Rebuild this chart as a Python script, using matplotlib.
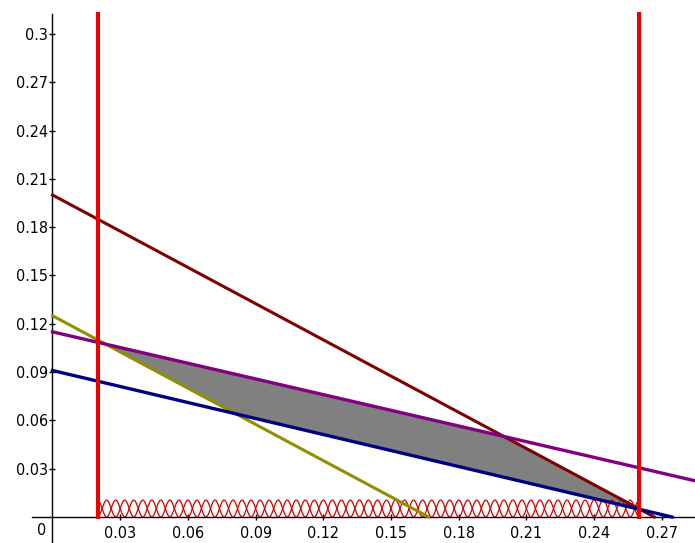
import numpy as np
import matplotlib
import matplotlib.pyplot as plt

matplotlib.use('Agg')

plt.rcParams['font.family'] = ['DejaVu Sans']
plt.rcParams['font.stretch'] = 'condensed'

# constraint lines (end points)
maroon_x = [0.0, 0.2667]
maroon_y = [0.2, 0.0]
olive_x = [0.0, 0.1667]
olive_y = [0.125, 0.0]
purple_x = [0.0, 0.285]
purple_y = [0.115, 0.0224]
navy_x = [0.0, 0.2745]
navy_y = [0.091, 0.0]

# bounds on x (red verticals)
x_low = 0.02
x_high = 0.26

xticks = [0.03, 0.06, 0.09, 0.12, 0.15, 0.18, 0.21, 0.24, 0.27]
yticks = [0.03, 0.06, 0.09, 0.12, 0.15, 0.18, 0.21, 0.24, 0.27, 0.3]

fig = plt.figure(figsize=(6.95, 5.43), dpi=100)
ax = fig.add_axes([0, 0, 1, 1])
ax.set_xlim(-0.02326, 0.2847)
ax.set_ylim(-0.01615, 0.3211)

# feasible region (grey)
xs = np.linspace(x_low, x_high, 600)
upper = np.minimum(np.interp(xs, purple_x, purple_y), np.interp(xs, maroon_x, maroon_y))
lower = np.maximum(np.interp(xs, navy_x, navy_y), np.interp(xs, olive_x, olive_y))
ax.fill_between(xs, lower, upper, where=upper >= lower, color='#808080', lw=0, zorder=1)

# red chain pattern along the bottom
n_waves = 30
h = 0.0105
xc = np.linspace(x_low, x_high, n_waves * 40 + 1)
ph = (xc - x_low) / (x_high - x_low) * n_waves * 2 * np.pi
ax.plot(xc, h / 2 * (1 + np.cos(ph)), color='#d00000', lw=0.9, zorder=2)
ax.plot(xc, h / 2 * (1 - np.cos(ph)), color='#d00000', lw=0.9, zorder=2)

ax.plot(maroon_x, maroon_y, color='#800000', lw=2.2, zorder=3)
ax.plot(olive_x, olive_y, color='#8f8f00', lw=2.2, zorder=3)
ax.plot(purple_x, purple_y, color='#800080', lw=2.4, zorder=3)
ax.plot(navy_x, navy_y, color='#000080', lw=2.4, zorder=3)

ax.plot([x_low, x_low], [0, 0.3124], color='#ee0000', lw=2.9, zorder=4)
ax.plot([x_high, x_high], [0, 0.3124], color='#ee0000', lw=2.9, zorder=4)

# axes through the origin
for s in ['top', 'right']:
    ax.spines[s].set_visible(False)
ax.spines['left'].set_position(('data', 0))
ax.spines['bottom'].set_position(('data', 0))
ax.spines['left'].set_bounds(-0.02, 0.3124)
ax.spines['bottom'].set_bounds(-0.0091, 0.2847)
ax.spines['left'].set_linewidth(1.0)
ax.spines['bottom'].set_linewidth(1.0)

ax.set_xticks(xticks)
ax.set_xticklabels([f'{t:g}' for t in xticks])
ax.set_yticks(yticks)
ax.set_yticklabels([f'{t:g}' for t in yticks])
ax.tick_params(axis='both', direction='inout', length=5, width=1, labelsize=11.5, colors='black')
ax.tick_params(axis='x', pad=4)
ax.tick_params(axis='y', pad=1)

ax.text(-0.0028, -0.0035, '0', ha='right', va='top', fontsize=11.5)

fig.savefig('out.png', dpi=100)
